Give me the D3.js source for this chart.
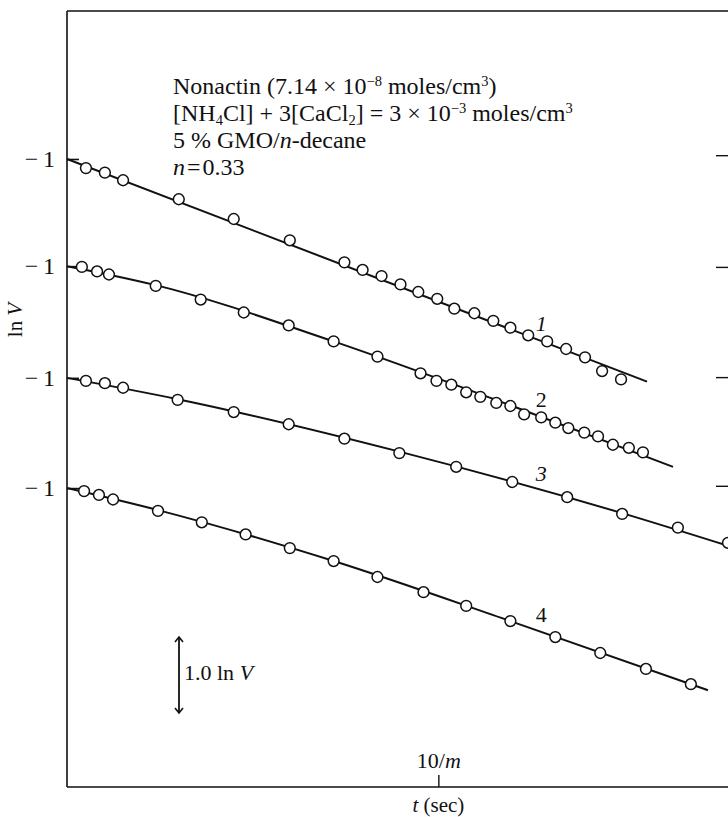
<!DOCTYPE html>
<html>
<head>
<meta charset="utf-8">
<script src="https://cdn.jsdelivr.net/npm/d3@7"></script>
<style>
  body { margin: 0; background: #fff; }
  text { font-family: "Liberation Serif", "Times New Roman", serif; fill: #111; }
</style>
</head>
<body>
<svg id="chart" width="728" height="817"></svg>
<script>
// ---- data: time t (minutes, axis marked at 10/m) and ln V for four runs ----
const curveLabels = ["1", "2", "3", "4"];
const curveLabelItalic = [true, false, true, false];
// vertical stacking of the runs on the common ln V axis
const curveOffsets = [0, 1.41, 2.88, 4.33];

const time1 = [0.51, 1.02, 1.51, 3.01, 4.49, 6.00, 7.47, 7.96, 8.47, 8.98, 9.46, 9.97, 10.43, 10.97, 11.48, 11.94, 12.42, 12.93, 13.44, 13.95, 14.41, 14.92];
const lnV1  = [-1.12, -1.18, -1.28, -1.53, -1.79, -2.07, -2.36, -2.46, -2.54, -2.65, -2.75, -2.84, -2.97, -3.03, -3.13, -3.22, -3.32, -3.40, -3.50, -3.61, -3.79, -3.90];

const time2 = [0.40, 0.81, 1.13, 2.39, 3.60, 4.76, 5.97, 7.18, 8.36, 9.52, 9.95, 10.35, 10.75, 11.13, 11.56, 11.94, 12.31, 12.77, 13.15, 13.50, 13.93, 14.30, 14.70, 15.13, 15.51];
const lnV2  = [-1.01, -1.07, -1.11, -1.26, -1.44, -1.61, -1.78, -1.99, -2.19, -2.41, -2.51, -2.56, -2.66, -2.72, -2.80, -2.84, -2.95, -2.99, -3.06, -3.13, -3.19, -3.24, -3.35, -3.39, -3.45];

const time3 = [0.51, 1.02, 1.51, 2.98, 4.49, 5.97, 7.47, 8.95, 10.48, 11.99, 13.47, 14.95, 16.45, 17.80];
const lnV3  = [-1.04, -1.07, -1.13, -1.29, -1.45, -1.61, -1.80, -1.99, -2.17, -2.37, -2.57, -2.79, -2.97, -3.17];

const time4 = [0.46, 0.86, 1.24, 2.45, 3.63, 4.81, 6.00, 7.18, 8.36, 9.60, 10.75, 11.94, 13.15, 14.36, 15.59, 16.80];
const lnV4  = [-1.04, -1.09, -1.15, -1.30, -1.45, -1.61, -1.79, -1.96, -2.17, -2.37, -2.55, -2.75, -2.96, -3.17, -3.38, -3.58];

// fitted curves through each run
const fitTime1 = [0, 15.62];
const fitLnV1  = [-1.0, -3.93];
const fitTime2 = [0, 2.39, 7.18, 11.94, 16.32];
const fitLnV2  = [-1.0, -1.25, -1.99, -2.83, -3.64];
const fitTime3 = [0, 2.98, 8.95, 14.95, 17.80];
const fitLnV3  = [-1.0, -1.28, -1.97, -2.78, -3.21];
const fitTime4 = [0, 2.45, 7.18, 11.94, 17.26];
const fitLnV4  = [-1.0, -1.29, -1.96, -2.75, -3.66];

// axis ticks
const yTickValue = -1;
const yTickLabels = ["\u2212\u20091", "\u2212\u20091", "\u2212\u20091", "\u2212\u20091"];
const rightTickValues = [-0.95, -2.42, -3.87, -5.30];
const xTickValues = [10];
const scaleBarLnV = 1.0;

const series = [
  { t: time1, v: lnV1, ft: fitTime1, fv: fitLnV1 },
  { t: time2, v: lnV2, ft: fitTime2, fv: fitLnV2 },
  { t: time3, v: lnV3, ft: fitTime3, fv: fitLnV3 },
  { t: time4, v: lnV4, ft: fitTime4, fv: fitLnV4 }
];

// ---- layout ----
const svg = d3.select("#chart");
const plotLeft = 67, plotRight = 728, plotTop = 11, plotBottom = 787;

const x = d3.scaleLinear().domain([0, 17.8]).range([plotLeft, plotRight]);
const y = d3.scaleLinear().domain([0.947, -9.263]).range([plotTop, plotBottom]);
const yk = (v, k) => y(v - curveOffsets[k]);

const ink = "#111";

// frame: top border
svg.append("line")
  .attr("x1", plotLeft).attr("x2", plotRight).attr("y1", plotTop).attr("y2", plotTop)
  .attr("stroke", ink).attr("stroke-width", 1.3);

// left axis with the ln V = -1 mark of every run
const leftAxis = d3.axisLeft(y)
  .tickValues(curveOffsets.map(o => yTickValue - o))
  .tickFormat((d, i) => yTickLabels[i])
  .tickSizeInner(-12).tickSizeOuter(0).tickPadding(12);
const gl = svg.append("g").attr("transform", `translate(${plotLeft},0)`).call(leftAxis);
gl.select(".domain").attr("stroke", ink).attr("stroke-width", 1.6)
  .attr("d", `M0,${plotTop}V${plotBottom}`);
gl.selectAll(".tick line").attr("stroke", ink).attr("stroke-width", 1.6);
gl.selectAll(".tick text").attr("font-size", 24).attr("fill", ink)
  .style("font-family", "'Liberation Serif', serif");

// right axis ticks
const rightAxis = d3.axisRight(y).tickValues(rightTickValues)
  .tickFormat("").tickSizeInner(-12).tickSizeOuter(0);
const gr = svg.append("g").attr("transform", `translate(${plotRight},0)`).call(rightAxis);
gr.select(".domain").remove();
gr.selectAll(".tick line").attr("stroke", ink).attr("stroke-width", 1.4);

// bottom axis: inward tick, label above it
const bottomAxis = d3.axisTop(x).tickValues(xTickValues)
  .tickSizeInner(12).tickSizeOuter(0).tickPadding(7).tickFormat("");
const gb = svg.append("g").attr("transform", `translate(0,${plotBottom})`).call(bottomAxis);
gb.select(".domain").attr("stroke", ink).attr("stroke-width", 1.6)
  .attr("d", `M${plotLeft},0H${plotRight}`);
gb.selectAll(".tick line").attr("stroke", ink).attr("stroke-width", 1.4);
const tickText = gb.selectAll(".tick text")
  .attr("font-size", 22).attr("fill", ink)
  .style("font-family", "'Liberation Serif', serif");
tickText.append("tspan").text("10/");
tickText.append("tspan").attr("font-style", "italic").text("m");

// axis titles
const xt = svg.append("text").attr("x", x(10)).attr("y", 812)
  .attr("text-anchor", "middle").attr("font-size", 21);
xt.append("tspan").attr("font-style", "italic").text("t");
xt.append("tspan").text(" (sec)");

const yt = svg.append("text")
  .attr("transform", "translate(22,320) rotate(-90)")
  .attr("text-anchor", "middle").attr("font-size", 21);
yt.append("tspan").text("ln ");
yt.append("tspan").attr("font-style", "italic").text("V");

// fitted curves and measured points
const lineGen = k => d3.line()
  .x(d => x(d[0]))
  .y(d => yk(d[1], k))
  .curve(d3.curveMonotoneX);

series.forEach((s, k) => {
  const fit = s.ft.map((t, i) => [t, s.fv[i]]);
  svg.append("path").datum(fit)
    .attr("d", lineGen(k))
    .attr("fill", "none").attr("stroke", ink).attr("stroke-width", 2);

  svg.append("g").selectAll("circle")
    .data(s.t.map((t, i) => [t, s.v[i]]))
    .join("circle")
    .attr("cx", d => x(d[0]))
    .attr("cy", d => yk(d[1], k))
    .attr("r", 5.4)
    .attr("fill", "#fff").attr("stroke", ink).attr("stroke-width", 1.5);

  // run number placed just above its curve
  const tl = 12.77;
  const vAt = d3.scaleLinear().domain(s.ft).range(s.fv)(tl);
  svg.append("text")
    .attr("x", x(tl)).attr("y", yk(vAt, k) - 10)
    .attr("text-anchor", "middle").attr("font-size", 22)
    .attr("font-style", curveLabelItalic[k] ? "italic" : "normal")
    .text(curveLabels[k]);
});

// scale bar: 1.0 ln V
const barCy = 675;
const barHalf = (y(0) - y(scaleBarLnV)) / 2;
const defs = svg.append("defs");
defs.append("marker").attr("id", "chev")
  .attr("viewBox", "-6 -6 12 12").attr("refX", 0).attr("refY", 0)
  .attr("markerWidth", 12).attr("markerHeight", 12)
  .attr("markerUnits", "userSpaceOnUse").attr("orient", "auto-start-reverse")
  .append("path").attr("d", "M-5,-4 L0,0 L-5,4")
  .attr("fill", "none").attr("stroke", ink).attr("stroke-width", 1.6);
svg.append("line")
  .attr("x1", 179).attr("x2", 179)
  .attr("y1", barCy - barHalf).attr("y2", barCy + barHalf)
  .attr("stroke", ink).attr("stroke-width", 1.8)
  .attr("marker-start", "url(#chev)").attr("marker-end", "url(#chev)");
const sb = svg.append("text").attr("x", 184).attr("y", barCy + 5).attr("font-size", 22);
sb.append("tspan").text("1.0 ln ");
sb.append("tspan").attr("font-style", "italic").text("V");

// experimental conditions
const note = svg.append("g").attr("font-size", 24);
const nx = 173;
const supShift = 8, subShift = 4, smallSize = 14.5;
const l1 = note.append("text").attr("x", nx).attr("y", 94);
l1.append("tspan").text("Nonactin (7.14 \u00d7 10");
l1.append("tspan").attr("dy", -supShift).attr("font-size", smallSize).text("\u22128");
l1.append("tspan").attr("dy", supShift).text(" moles/cm");
l1.append("tspan").attr("dy", -supShift).attr("font-size", smallSize).text("3");
l1.append("tspan").attr("dy", supShift).text(")");

const l2 = note.append("text").attr("x", nx).attr("y", 121);
l2.append("tspan").text("[NH");
l2.append("tspan").attr("dy", subShift).attr("font-size", smallSize).text("4");
l2.append("tspan").attr("dy", -subShift).text("Cl] + 3[CaCl");
l2.append("tspan").attr("dy", subShift).attr("font-size", smallSize).text("2");
l2.append("tspan").attr("dy", -subShift).text("] = 3 \u00d7 10");
l2.append("tspan").attr("dy", -supShift).attr("font-size", smallSize).text("\u22123");
l2.append("tspan").attr("dy", supShift).text(" moles/cm");
l2.append("tspan").attr("dy", -supShift).attr("font-size", smallSize).text("3");

const l3 = note.append("text").attr("x", nx).attr("y", 148);
l3.append("tspan").text("5 % GMO/");
l3.append("tspan").attr("font-style", "italic").text("n");
l3.append("tspan").text("-decane");

const l4 = note.append("text").attr("x", nx).attr("y", 175);
l4.append("tspan").attr("font-style", "italic").text("n");
l4.append("tspan").text("\u200a=\u200a0.33");
</script>
</body>
</html>
